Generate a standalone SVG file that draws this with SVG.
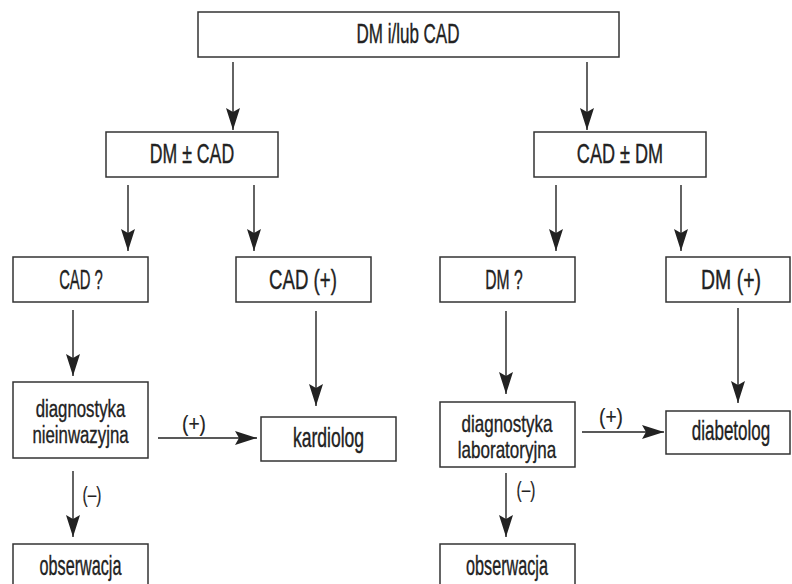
<svg xmlns="http://www.w3.org/2000/svg" width="792" height="584" viewBox="0 0 792 584">
<style>
.box{fill:#fff;stroke:#333;stroke-width:1.5}
.t{font-family:"Liberation Sans",Arial,sans-serif;font-size:27px;fill:#222;stroke:#222;stroke-width:0.4;text-anchor:middle}
.m{font-size:23px;stroke-width:0.35}
.s{font-size:22px;stroke-width:0.2}
.c{fill:none;stroke:#222;stroke-width:1.4}
</style>
<defs>
<marker id="ah" markerUnits="userSpaceOnUse" markerWidth="24" markerHeight="16" viewBox="0 -8 24 16" refX="22" refY="0" orient="auto">
<path d="M0,-7 L22,0 L0,7 L4,0 Z" fill="#222"/>
</marker>
</defs>
<rect width="792" height="584" fill="#fff"/>
<g id="connectors">
<line class="c" x1="233" y1="62" x2="233" y2="130" marker-end="url(#ah)"/>
<line class="c" x1="587" y1="62" x2="587" y2="130" marker-end="url(#ah)"/>
<line class="c" x1="128" y1="185" x2="128" y2="251" marker-end="url(#ah)"/>
<line class="c" x1="254" y1="185" x2="254" y2="251" marker-end="url(#ah)"/>
<line class="c" x1="556" y1="185" x2="556" y2="251" marker-end="url(#ah)"/>
<line class="c" x1="681" y1="185" x2="681" y2="251" marker-end="url(#ah)"/>
<line class="c" x1="73" y1="310" x2="73" y2="376" marker-end="url(#ah)"/>
<line class="c" x1="316" y1="311" x2="316" y2="406" marker-end="url(#ah)"/>
<line class="c" x1="506" y1="311" x2="506" y2="394" marker-end="url(#ah)"/>
<line class="c" x1="738" y1="308" x2="738" y2="403" marker-end="url(#ah)"/>
<line class="c" x1="158" y1="438" x2="257" y2="438" marker-end="url(#ah)"/>
<line class="c" x1="582" y1="432" x2="664" y2="432" marker-end="url(#ah)"/>
<line class="c" x1="73" y1="471" x2="73" y2="537" marker-end="url(#ah)"/>
<line class="c" x1="506" y1="473" x2="506" y2="537" marker-end="url(#ah)"/>
<text class="t s" transform="translate(194,431) scale(0.87,1)">(+)</text>
<text class="t s" transform="translate(611,424) scale(0.87,1)">(+)</text>
<text class="t s" transform="translate(92,502) scale(0.7,1)">(–)</text>
<text class="t s" transform="translate(526,497) scale(0.7,1)">(–)</text>
</g>
<g id="n-top"><rect class="box" x="198" y="12" width="421" height="45"/><text class="t" transform="translate(408,43) scale(0.63,1)">DM i/lub CAD</text></g>
<g id="n-dmcad"><rect class="box" x="106" y="132" width="172" height="45"/><text class="t" transform="translate(192,163) scale(0.655,1)">DM ± CAD</text></g>
<g id="n-caddm"><rect class="box" x="534" y="132" width="172" height="45"/><text class="t" transform="translate(620,163) scale(0.67,1)">CAD ± DM</text></g>
<g id="n-cadq"><rect class="box" x="13" y="257" width="135" height="45"/><text class="t" transform="translate(81,289) scale(0.55,1)">CAD ?</text></g>
<g id="n-cadp"><rect class="box" x="236" y="257" width="135" height="45"/><text class="t" transform="translate(303,289) scale(0.69,1)">CAD (+)</text></g>
<g id="n-dmq"><rect class="box" x="440" y="257" width="135" height="45"/><text class="t" transform="translate(504,289) scale(0.58,1)">DM ?</text></g>
<g id="n-dmp"><rect class="box" x="666" y="257" width="124" height="45"/><text class="t" transform="translate(731,289) scale(0.72,1)">DM (+)</text></g>
<g id="n-diagni"><rect class="box" x="13" y="382" width="135" height="76"/><text class="t m" transform="translate(80.5,417) scale(0.73,1)"><tspan x="0" y="0">diagnostyka</tspan><tspan x="0" y="26">nieinwazyjna</tspan></text></g>
<g id="n-kard"><rect class="box" x="261" y="417" width="135" height="44"/><text class="t" transform="translate(328.5,447) scale(0.65,1)">kardiolog</text></g>
<g id="n-diaglab"><rect class="box" x="440" y="402" width="135" height="65"/><text class="t m" transform="translate(507,432) scale(0.74,1)"><tspan x="0" y="0">diagnostyka</tspan><tspan x="0" y="26">laboratoryjna</tspan></text></g>
<g id="n-diab"><rect class="box" x="666" y="411" width="124" height="43"/><text class="t" transform="translate(731,440) scale(0.63,1)">diabetolog</text></g>
<g id="n-obsl"><rect class="box" x="13" y="544" width="135" height="50"/><text class="t" transform="translate(80.5,575) scale(0.6,1)">obserwacja</text></g>
<g id="n-obsr"><rect class="box" x="440" y="544" width="135" height="50"/><text class="t" transform="translate(507,575) scale(0.6,1)">obserwacja</text></g>
</svg>
